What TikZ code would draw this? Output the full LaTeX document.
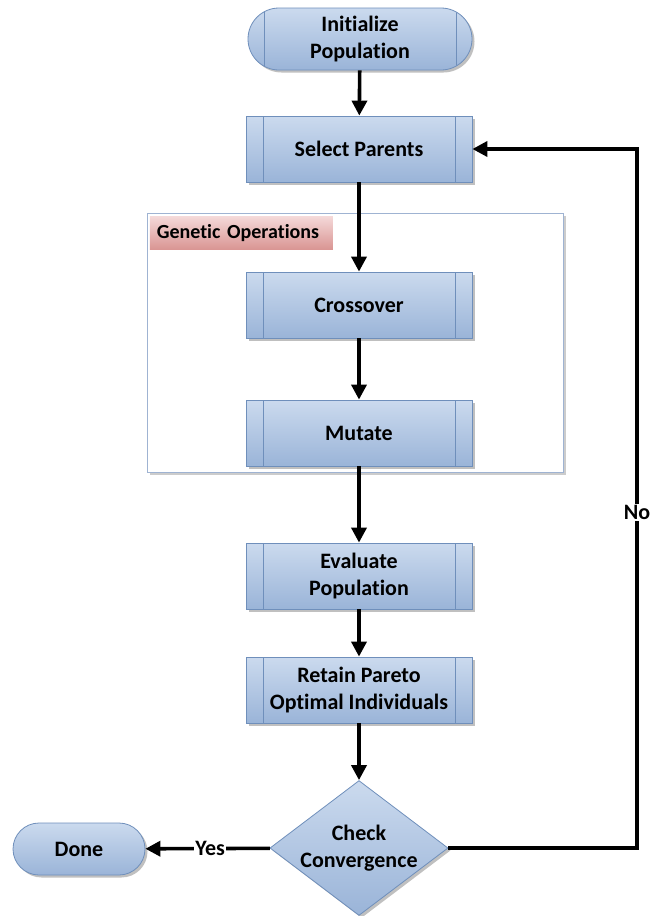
\documentclass[tikz,border=0pt]{standalone}
\usepackage{fontspec}
\setmainfont{Carlito}[Ligatures={NoCommon,NoRequired,NoContextual}]
\usetikzlibrary{shapes.geometric,shadows,arrows.meta}
\definecolor{topc}{HTML}{CBDAEE}
\definecolor{botc}{HTML}{9AB4D8}
\definecolor{bordc}{HTML}{6F8FBB}
\definecolor{ltop}{HTML}{F4D8D8}
\definecolor{lbot}{HTML}{D99492}
\definecolor{contc}{HTML}{9FB3D2}
\begin{document}
\begin{tikzpicture}[x=1pt,y=-1pt,
  font=\bfseries\fontsize{22}{27}\selectfont,
  shd/.style={drop shadow={shadow xshift=2.5pt,shadow yshift=-2.5pt,fill=black!45,opacity=0.55}},
  basefill/.style={draw=bordc,line width=0.8pt,top color=topc,bottom color=botc,align=center,inner sep=0pt,shd},
  sidelines/.style={path picture={
      \draw[bordc,line width=0.8pt] ([xshift=#1]path picture bounding box.north west) -- ([xshift=#1]path picture bounding box.south west);
      \draw[bordc,line width=0.8pt] ([xshift=-#1]path picture bounding box.north east) -- ([xshift=-#1]path picture bounding box.south east);}},
  proc/.style={basefill,rectangle,minimum width=226pt,minimum height=66pt,sidelines=17pt},
  term/.style={basefill,rectangle,rounded corners=26pt,minimum width=132pt,minimum height=52pt},
  startterm/.style={basefill,rectangle,rounded corners=31pt,minimum width=224pt,minimum height=62pt,sidelines=16pt},
  decis/.style={basefill,diamond,aspect=1.32,minimum width=172pt,minimum height=130pt},
  arr/.style={-{Triangle[length=15pt,width=15pt]},line width=3.6pt,black},
  lab/.style={fill=white,inner sep=1pt}
]
\useasboundingbox (0,0) rectangle (650,916);
% container
\node[draw=contc,line width=0.8pt,fill=white,minimum width=416pt,minimum height=259pt,inner sep=0pt,
  drop shadow={shadow xshift=3pt,shadow yshift=-3pt,fill=black!40,opacity=0.5}] (gops) at (355,342.5) {};
\node[anchor=north west,top color=ltop,bottom color=lbot,minimum width=183pt,minimum height=33pt,
  inner xsep=7pt,inner ysep=0pt,text width=169pt,align=left,font=\bfseries\fontsize{20}{24}\selectfont] (glabel) at ([xshift=3pt,yshift=-4pt]gops.north west) {Genetic Operations};
% nodes
\node[startterm] (init) at (360,39) {Initialize\\Population};
\node[proc] (sel) at (359,149) {Select Parents};
\node[proc] (cross) at (359,305) {Crossover};
\node[proc] (mut) at (359,433) {Mutate};
\node[proc] (eval) at (359,576) {Evaluate\\Population};
\node[proc] (ret) at (359,690) {Retain Pareto\\Optimal Individuals};
\node[decis] (conv) at (359,848) {Check\\Convergence};
\node[term] (done) at (79,849) {Done};
\coordinate (corner) at (637,149);
% connectors
\draw[arr] (init) -- (sel);
\draw[arr] (sel) -- (cross);
\draw[arr] (cross) -- (mut);
\draw[arr] (mut) -- (eval);
\draw[arr] (eval) -- (ret);
\draw[arr] (ret) -- (conv);
\draw[arr] (conv) -- node[lab,pos=0.48]{Yes} (done);
\draw[arr] (conv.east) -- (conv.east -| corner) -- node[lab,pos=0.48]{No} (corner) -- (sel.east);
\end{tikzpicture}
\end{document}
